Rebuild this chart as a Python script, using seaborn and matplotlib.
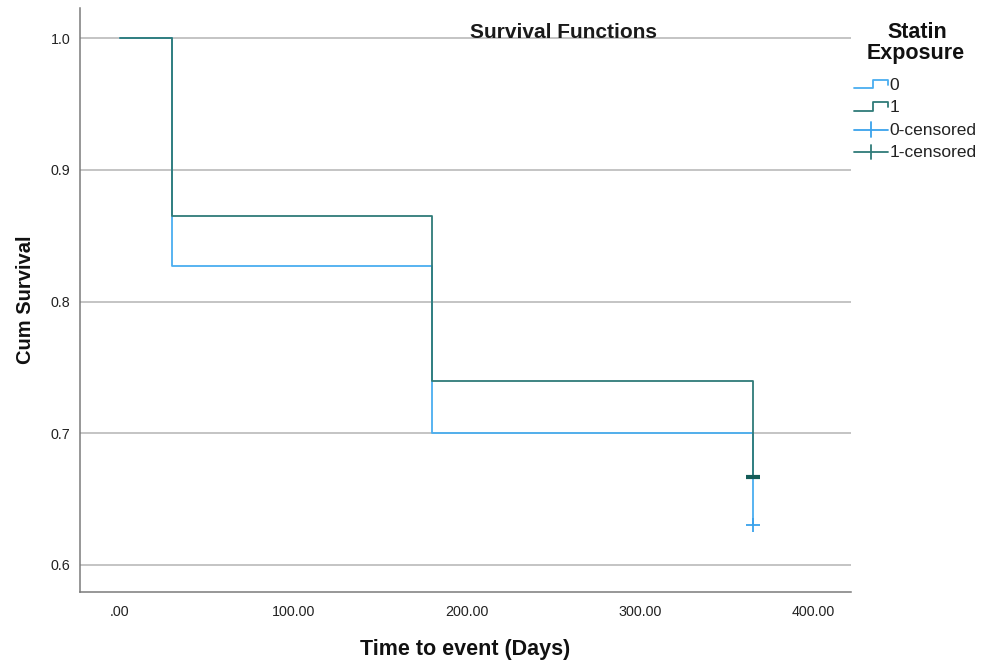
import numpy as np
import pandas as pd
import matplotlib
matplotlib.use("Agg")
import matplotlib.pyplot as plt
import seaborn as sns
from matplotlib.legend_handler import HandlerBase
from matplotlib.lines import Line2D

# Data
groups = ["0", "1"]
times = [0, 30, 180, 365]
surv_0 = [1.0, 0.827, 0.700, 0.630]
surv_1 = [1.0, 0.865, 0.740, 0.667]
censor_time = 365
censor_0 = 0.630
censor_1 = 0.667
x_ticks = [0, 100, 200, 300, 400]
y_ticks = [0.6, 0.7, 0.8, 0.9, 1.0]

col0 = "#4aaef0"
col1 = "#2f7b78"
cen0 = "#3aa2ec"
cen1 = "#145c58"

sns.set_theme(style="white")
plt.rcParams["font.family"] = ["Liberation Sans", "DejaVu Sans"]

df = pd.DataFrame({
    "time": times * 2,
    "surv": surv_0 + surv_1,
    "group": ["0"] * len(times) + ["1"] * len(times),
})

fig = plt.figure(figsize=(9.84, 6.66), dpi=100)
ax = fig.add_axes([80 / 984, 1 - 592 / 666, (851 - 80) / 984, (592 - 8) / 666])

for y in y_ticks:
    ax.axhline(y, color="#b4b4b4", lw=1.1, zorder=0)

sns.lineplot(data=df, x="time", y="surv", hue="group", palette={"0": col0, "1": col1},
             drawstyle="steps-post", lw=1.3, ax=ax, legend=False, estimator=None, sort=False)
ax.scatter([censor_time], [censor_0], marker="+", s=110, color=cen0, linewidths=1.3, zorder=5)
ax.scatter([censor_time], [censor_1], marker="_", s=110, color=cen1, linewidths=3.0, zorder=5)

ax.set_xlim(-23, 421.6)
ax.set_ylim(0.5795, 1.0228)
ax.set_xticks(x_ticks)
ax.set_xticklabels([".00" if v == 0 else f"{v:.2f}" for v in x_ticks])
ax.set_yticks(y_ticks)
ax.set_yticklabels([f"{v:.1f}" for v in y_ticks])
ax.tick_params(axis="x", length=0, pad=9, labelsize=10.3, colors="#222222")
ax.tick_params(axis="y", length=0, pad=7, labelsize=10.3, colors="#222222")

for s in ["top", "right"]:
    ax.spines[s].set_visible(False)
for s in ["left", "bottom"]:
    ax.spines[s].set_color("#7a7a7a")
    ax.spines[s].set_linewidth(1.1)

ax.set_xlabel("Time to event (Days)", fontsize=15.5, fontweight="bold", labelpad=15, color="#111111")
ax.set_ylabel("Cum Survival", fontsize=14.5, fontweight="bold", labelpad=11, color="#111111")
ax.text(564 / 984, 1 - 32 / 666, "Survival Functions", transform=fig.transFigure, ha="center",
        va="center", fontsize=15, fontweight="bold", color="#1a1a1a")

# Legend title
fig.text(917 / 984, 1 - 33 / 666, "Statin", ha="center", va="center",
         fontsize=15.5, fontweight="bold", color="#111111")
fig.text(916 / 984, 1 - 54 / 666, "Exposure", ha="center", va="center",
         fontsize=15.5, fontweight="bold", color="#111111")


class StepHandler(HandlerBase):
    def create_artists(self, legend, orig_handle, xdescent, ydescent, width, height, fontsize, trans):
        c = orig_handle.get_color()
        xs = np.array([0, 0.55, 0.55, 1.0, 1.0]) * width - xdescent
        ys = np.array([0.1, 0.1, 0.8, 0.8, 0.4]) * height - ydescent
        ln = Line2D(xs, ys, color=c, lw=1.3, transform=trans)
        return [ln]


class CrossHandler(HandlerBase):
    def create_artists(self, legend, orig_handle, xdescent, ydescent, width, height, fontsize, trans):
        c = orig_handle.get_color()
        y0 = 0.4 * height - ydescent
        h = Line2D([-xdescent, width - xdescent], [y0, y0], color=c, lw=1.3, transform=trans)
        xm = 0.5 * width - xdescent
        v = Line2D([xm, xm], [y0 - 0.6 * height, y0 + 0.6 * height], color=c, lw=1.3, transform=trans)
        return [h, v]


class StepH(Line2D):
    pass


class CrossH(Line2D):
    pass


handles = [StepH([], [], color=col0), StepH([], [], color=col1),
           CrossH([], [], color=cen0), CrossH([], [], color=col1)]
labels = ["0", "1", "0-censored", "1-censored"]
leg = fig.legend(handles, labels, handler_map={StepH: StepHandler(), CrossH: CrossHandler()},
                 loc="upper left",
                 bbox_to_anchor=(854 / 984, 1 - 77.5 / 666), bbox_transform=fig.transFigure,
                 frameon=False, fontsize=12.5, handlelength=1.95, handletextpad=0.1,
                 labelspacing=0.42, borderaxespad=0.0, borderpad=0.0)
for t in leg.get_texts():
    t.set_color("#222222")

fig.savefig("out.png", dpi=100)
